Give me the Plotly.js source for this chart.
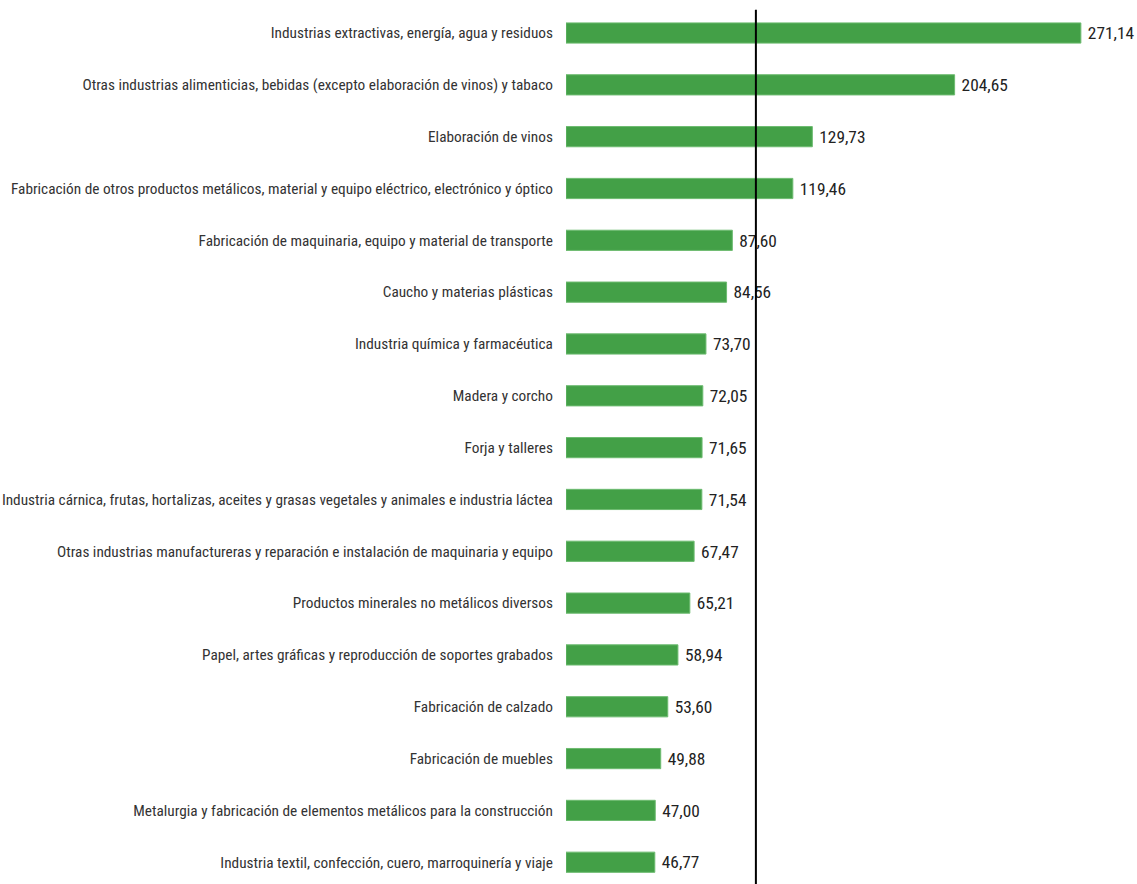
<!DOCTYPE html>
<html><head><meta charset="utf-8">
<script src="https://cdn.plot.ly/plotly-3.0.1.min.js"></script>
<style>html,body{margin:0;padding:0;background:#fff}#chart{width:1137px;height:884px}</style>
</head><body><div id="chart"></div>
<script>
const categories = [
  "Industrias extractivas, energía, agua y residuos",
  "Otras industrias alimenticias, bebidas (excepto elaboración de vinos) y tabaco",
  "Elaboración de vinos",
  "Fabricación de otros productos metálicos, material y equipo eléctrico, electrónico y óptico",
  "Fabricación de maquinaria, equipo y material de transporte",
  "Caucho y materias plásticas",
  "Industria química y farmacéutica",
  "Madera y corcho",
  "Forja y talleres",
  "Industria cárnica, frutas, hortalizas, aceites y grasas vegetales y animales e industria láctea",
  "Otras industrias manufactureras y reparación e instalación de maquinaria y equipo",
  "Productos minerales no metálicos diversos",
  "Papel, artes gráficas y reproducción de soportes grabados",
  "Fabricación de calzado",
  "Fabricación de muebles",
  "Metalurgia y fabricación de elementos metálicos para la construcción",
  "Industria textil, confección, cuero, marroquinería y viaje"
];
const values = [271.14, 204.65, 129.73, 119.46, 87.60, 84.56, 73.70, 72.05, 71.65, 71.54, 67.47, 65.21, 58.94, 53.60, 49.88, 47.00, 46.77];
const referenceLine = 100;

const font = "'Roboto Condensed', 'Liberation Sans Narrow', sans-serif";

Plotly.newPlot('chart', [{
  type: 'bar',
  orientation: 'h',
  y: categories,
  x: values,
  width: 0.39,
  marker: {color: '#43a047', line: {color: '#6dbb70', width: 1}},
  texttemplate: '\u00a0%{x:.2f}',
  textposition: 'outside',
  cliponaxis: false,
  textfont: {family: font, size: 18, color: '#222'},
  hoverinfo: 'none'
}], {
  width: 1137, height: 884,
  margin: {l: 566, r: 0, t: 0, b: 0},
  separators: ',.',
  paper_bgcolor: '#fff', plot_bgcolor: '#fff',
  showlegend: false,
  font: {family: font},
  xaxis: {range: [0, 300.7], visible: false, fixedrange: true},
  yaxis: {
    type: 'category',
    range: [16.42, -0.637],
    showgrid: false, zeroline: false, showline: false,
    ticks: 'outside', ticklen: 9, tickcolor: 'rgba(0,0,0,0)',
    tickfont: {family: font, size: 15.3, color: '#333'},
    automargin: false
  },
  shapes: [{
    type: 'line', xref: 'x', yref: 'paper',
    x0: referenceLine, x1: referenceLine, y0: 0, y1: 0.989,
    line: {color: '#000', width: 2}
  }]
}, {displayModeBar: false, staticPlot: true});
</script></body></html>
